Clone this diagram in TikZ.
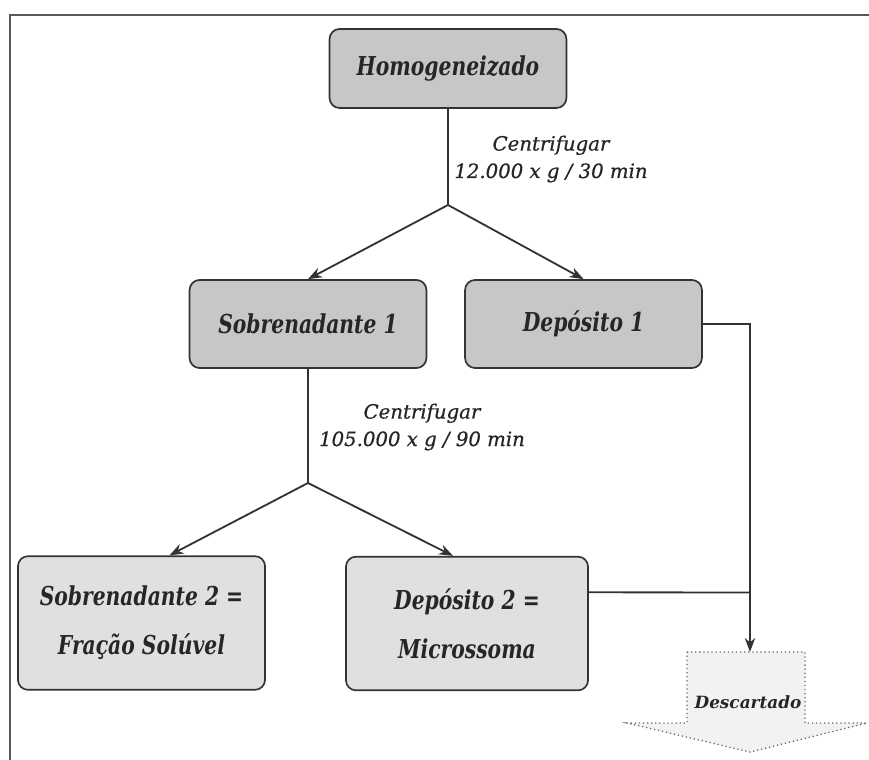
\documentclass[tikz,border=0pt]{standalone}
\usepackage{fontspec}
\newfontfamily\boxfont[FakeStretch=0.78]{DejaVu Serif}
\newfontfamily\labelfont[FakeBold=0.7]{DejaVu Serif}
\newfontfamily\discardfont{DejaVu Serif}
\usetikzlibrary{arrows.meta}

\begin{document}
\begin{tikzpicture}[x=0.025cm,y=-0.025cm,
    main node/.style={rectangle,rounded corners=0.25cm,draw=black!80,line width=1.2pt,text=black!85,align=center,inner sep=0pt,font=\boxfont\bfseries\itshape\fontsize{18.5}{35}\selectfont},
    upper node/.style={main node,fill=black!22,minimum width=5.92cm,minimum height=2.2cm},
    lower node/.style={main node,fill=black!12,minimum height=3.34cm},
    cut label/.style={align=center,text=black!85,font=\labelfont\itshape\fontsize{14}{19.5}\selectfont},
    link/.style={draw=black!80,line width=1.3pt},
    flow/.style={link,-{Stealth[length=0.35cm,width=0.26cm]}}]
    \useasboundingbox (0,0) rectangle (869,760);

    % frame
    \draw[line width=2pt,draw=black!65] (10,760) -- (10,15) -- (869,15);

    \node[upper node, minimum height=1.975cm] at (448, 68.5) (hom) {Homogeneizado};
    \node[upper node] at (308, 324) (sob1) {Sobrenadante 1};
    \node[upper node] at (583.5, 324) (dep1) {Depósito 1};
    \node[lower node, minimum width=6.175cm] at (141.5, 623) (sob2) {Sobrenadante 2 =\\Fração Solúvel};
    \node[lower node, minimum width=6.05cm] at (467, 623.5) (dep2) {Depósito 2 =\\Microssoma};

    \node[cut label] at (551, 159) (cut1) {Centrifugar\\12.000 x g / 30 min};
    \node[cut label] at (422, 427) (cut2) {Centrifugar\\105.000 x g / 90 min};

    % discard arrow
    \draw[dotted,line width=0.9pt,draw=black!60,fill=black!5]
        (687,652) -- (805,652) -- (805,723) -- (867,723) -- (750,752)
        -- (627,723) -- (687,723) -- cycle;
    \node[font=\discardfont\bfseries\itshape\fontsize{12}{14}\selectfont,text=black!85] at (748, 702) (desc) {Descartado};

    \coordinate (split1) at (448, 205);
    \coordinate (split2) at (308, 483);
    \coordinate (desc top) at (750, 652);
    \coordinate (join) at (750, 592.5);

    \draw[link] (hom) -- (split1);
    \draw[flow] (split1) -- (sob1.north);
    \draw[flow] (split1) -- (dep1.north);
    \draw[link] (sob1) -- (split2);
    \draw[flow] (split2) -- ([xshift=0.7cm]sob2.north);
    \draw[flow] (split2) -- ([xshift=-0.35cm]dep2.north);
    \draw[flow] (dep1.east) -| (desc top);
    \draw[link] ([yshift=0.78cm]dep2.east) -- (join);
\end{tikzpicture}
\end{document}
